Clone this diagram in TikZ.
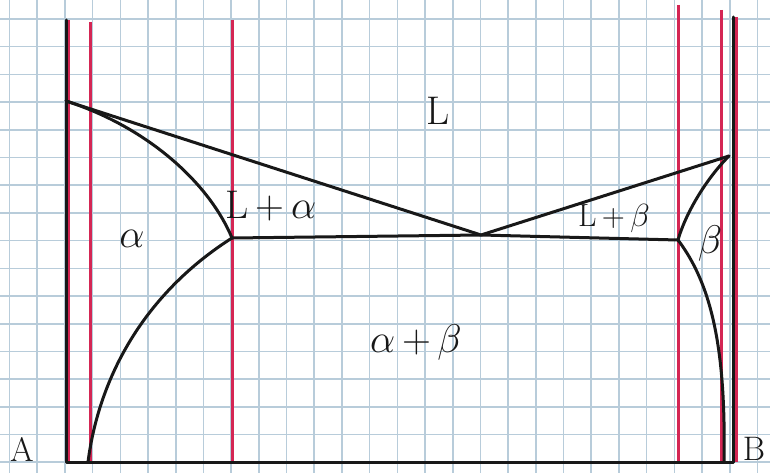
\RequirePackage{fix-cm}
\documentclass[tikz,border=0pt]{standalone}
\usepackage{amsmath}
\usetikzlibrary{positioning}
\definecolor{GridBlue}{RGB}{184,204,218}
\definecolor{InkRed}{RGB}{212,38,84}
\definecolor{InkBlack}{RGB}{24,24,24}
\tikzset{
    phase/.style={font=\fontsize{40}{42}\selectfont, inner sep=0pt, InkBlack},
    boundary/.style={InkBlack, line width=3pt, line cap=round, line join=round},
    isopleth/.style={InkRed, line width=3pt}
}

\begin{document}
\begin{tikzpicture}[
    x=1pt, y=-1pt
]

% Paper
\useasboundingbox (0,0) rectangle (770,473);
\fill[white] (0,0) rectangle (770,473);
\foreach \i in {0,...,27}
    \draw[GridBlue, line width=1.6pt] ({9.5+27.7*\i},0) -- ++(0,473);
\foreach \j in {0,...,16}
    \draw[GridBlue, line width=1.6pt] (0,{19+27.7*\j}) -- ++(770,0);

% Frame and key points
\coordinate (Atop) at (66,20);
\coordinate (Abot) at (66,462);
\coordinate (Bbot) at (733,462);
\coordinate (Btop) at (733,17);
\coordinate (meltA) at (66,101);
\coordinate (meltB) at (729,156);
\coordinate (eut) at (481,235);
\coordinate (eutA) at (232,238);
\coordinate (eutB) at (678,240);
\coordinate (solA) at (88,462);
\coordinate (solB) at (724,462);

% Compositions
\draw[isopleth] (68,20) -- (68,462);
\draw[isopleth] (90,22) -- (90,462);
\draw[isopleth] (232,20) -- (232,462);
\draw[isopleth] (678,5) -- (678,462);
\draw[isopleth] (721,10) -- (721,462);
\draw[isopleth] (736,17) -- (736,462);

% Axes
\draw[boundary] (Atop) -- (Abot) -- (Bbot) -- (Btop);

% Liquidus and eutectic
\draw[boundary] (meltA) -- (eut) -- (meltB);
\draw[boundary] (eutA) -- (eut) -- (eutB);

% Solidus and solvus
\draw[boundary] (meltA) .. controls (150,128) and (210,185) .. (eutA);
\draw[boundary] (eutA) .. controls (150,290) and (100,370) .. (solA);
\draw[boundary] (meltB) .. controls (705,180) and (685,215) .. (eutB);
\draw[boundary] (eutB) .. controls (712,285) and (726,350) .. (solB);

% Labels
\node[phase] (liq) at (438,111) {L};
\node[phase] (liqalpha) at (271,206) {L\,+\,$\alpha$};
\node[phase] (alpha) at (132,239) {$\alpha$};
\node[phase, font=\fontsize{32}{34}\selectfont] (liqbeta) at (614,218) {L\,+\,$\beta$};
\node[phase] (beta) at (710,243) {$\beta$};
\node[phase] (alphabeta) at (416,342) {$\alpha$\,+\,$\beta$};
\node[phase, font=\fontsize{34}{36}\selectfont] (compA) at (22,449) {A};
\node[phase, font=\fontsize{34}{36}\selectfont] (compB) at (754,449) {B};

\end{tikzpicture}
\end{document}
